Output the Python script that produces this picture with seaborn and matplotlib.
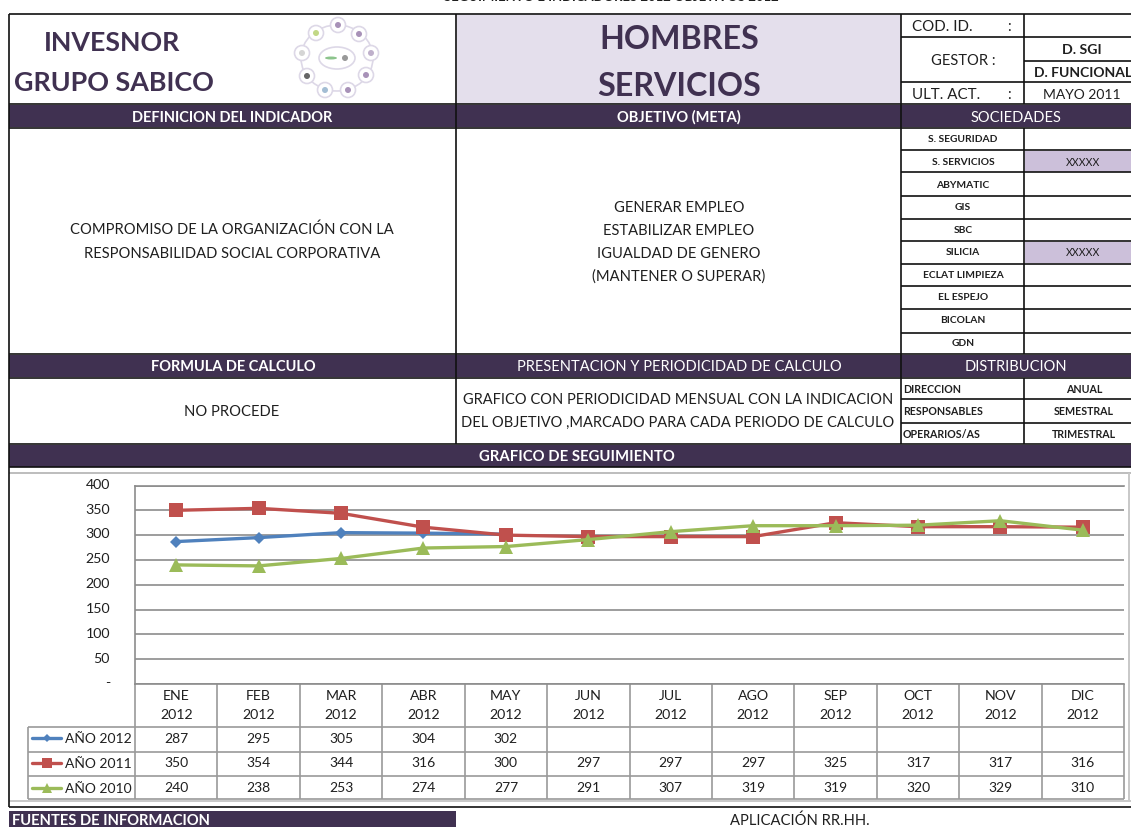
import numpy as np
import pandas as pd
import matplotlib
matplotlib.use("Agg")
import matplotlib.pyplot as plt
from matplotlib.patches import Rectangle, Ellipse
from matplotlib.transforms import ScaledTranslation
import seaborn as sns

months = ["ENE", "FEB", "MAR", "ABR", "MAY", "JUN", "JUL", "AGO", "SEP", "OCT", "NOV", "DIC"]
year_label = "2012"
values_2012 = [287, 295, 305, 304, 302, None, None, None, None, None, None, None]
values_2011 = [350, 354, 344, 316, 300, 297, 297, 297, 325, 317, 317, 316]
values_2010 = [240, 238, 253, 274, 277, 291, 307, 319, 319, 320, 329, 310]
series_names = ["AÑO 2012", "AÑO 2011", "AÑO 2010"]
series_values = [values_2012, values_2011, values_2010]
series_colors = ["#4F81BD", "#C0504D", "#9BBB59"]
y_ticks = [0, 50, 100, 150, 200, 250, 300, 350, 400]
y_tick_labels = ["-", "50", "100", "150", "200", "250", "300", "350", "400"]
societies = ["S. SEGURIDAD", "S. SERVICIOS", "ABYMATIC", "GIS", "SBC", "SILICIA",
             "ECLAT LIMPIEZA", "EL ESPEJO", "BICOLAN", "GDN"]

W, H = 1131, 827
DARK, LILAC, LILAC2, INK = "#403151", "#E4DFEC", "#CCC0DA", "#1F1F1F"
sns.set_theme(style="white")
plt.rcParams["font.family"] = ["Lato", "DejaVu Sans"]

fig = plt.figure(figsize=(W / 100, H / 100), dpi=100, facecolor="white")
bg = fig.add_axes([0, 0, 1, 1])
bg.set_xlim(0, W)
bg.set_ylim(H, 0)
bg.axis("off")


def box(x0, y0, x1, y1, color):
    bg.add_patch(Rectangle((x0, y0), x1 - x0, y1 - y0, fc=color, ec="none", zorder=1))


def hl(y, x0, x1, color="#111111", lw=1.2, z=3):
    bg.plot([x0, x1], [y, y], color=color, lw=lw, zorder=z, solid_capstyle="butt")


def vl(x, y0, y1, color="#111111", lw=1.2, z=3):
    bg.plot([x, x], [y0, y1], color=color, lw=lw, zorder=z, solid_capstyle="butt")


def txt(x, y, s, size=10.6, color=INK, weight="normal", ha="center"):
    bg.text(x, y + 0.1 * size, s, fontsize=size, color=color, fontweight=weight, ha=ha, va="center", zorder=5)


# Fills
box(457, 15, 901, 104, LILAC)
for y0, y1 in [(105, 127), (355, 377), (445, 467)]:
    box(9, y0, W, y1, DARK)
box(9, 811, 456, H, DARK)
box(1025, 151, W, 172, LILAC2)
box(1025, 242, W, 263, LILAC2)

# Table rules
hl(14, 9, W, "#333333", 1.4)
for y in [104, 128, 354, 378, 444, 467]:
    hl(y, 9, W)
for x in [456, 901]:
    vl(x, 14, 444)
vl(9, 14, 467)
vl(1024, 14, 104)
vl(1024, 128, 354)
vl(1024, 378, 444)
hl(37, 901, W)
hl(82, 901, W)
hl(61, 1024, W)
for y in [150, 172, 196, 219, 241, 264, 286, 309, 333]:
    hl(y, 901, W)
for y in [399, 423]:
    hl(y, 901, W)

# Chart frame
hl(473, 9, W, "#BDBDBD", 1.4)
hl(801, 9, W, "#C8C8C8", 1.4)
vl(1129, 473, 801, "#C8C8C8", 1.4)
vl(9, 467, 807)
hl(807, 9, W)

# Logo
RING = "#DDD8E7"
bg.add_patch(Ellipse((337, 58), 72, 66, fc="none", ec=RING, lw=1.2, zorder=2))
bg.add_patch(Ellipse((337, 58), 36, 22, fc="white", ec=RING, lw=1.2, zorder=3))
bg.add_patch(Ellipse((331, 58), 12, 3, fc="#8CC48C", ec="none", zorder=4))
bg.add_patch(Ellipse((345, 58), 6, 6, fc="#999999", ec="none", zorder=4))
logo_nodes = [(338, 25), (359, 34), (371, 53), (366, 75), (348, 90), (325, 90), (307, 76), (302, 53), (316, 33)]
logo_marks = ["#A892B8", "#A892B8", "#BFB0CB", "#A892B8", "#A892B8", "#A4BED4", "#666666", "#D5D5D5", "#C2D886"]
for (nx, ny), nc in zip(logo_nodes, logo_marks):
    bg.add_patch(Ellipse((nx, ny), 15, 15, fc="white", ec=RING, lw=1.2, zorder=3))
    bg.add_patch(Ellipse((nx, ny), 6, 6, fc=nc, ec="none", zorder=4))

# Header text
txt(112, 41, "INVESNOR", 19.3, DARK, "bold")
txt(114, 81, "GRUPO SABICO", 19.4, DARK, "bold")
txt(679, 37, "HOMBRES", 23.2, DARK, "bold")
txt(679, 84, "SERVICIOS", 23.2, DARK, "bold")
txt(611, -4, "SEGUIMIENTO E INDICADORES 2012 OBJETIVOS 2012", 9.45, INK, "bold")
txt(912, 26, "COD. ID.", 10.9, ha="left")
txt(1009, 26, ":", 10.6)
txt(963, 60, "GESTOR :", 10.6)
txt(1082, 49, "D. SGI", 10.2, weight="bold")
txt(1083, 72, "D. FUNCIONAL", 10, weight="bold")
txt(912, 94, "ULT. ACT.", 10.9, ha="left")
txt(1009, 94, ":", 10.6)
txt(1082, 94, "MAYO 2011", 10)

for x, s, w in [(232, "DEFINICION DEL INDICADOR", "bold"), (679, "OBJETIVO (META)", "bold"), (1016, "SOCIEDADES", "normal")]:
    txt(x, 116.5, s, 10.5, "white", w)
for x, s, w in [(233, "FORMULA DE CALCULO", "bold"), (679, "PRESENTACION Y PERIODICIDAD DE CALCULO", "normal"), (1016, "DISTRIBUCION", "normal")]:
    txt(x, 366, s, 10.5, "white", w)
txt(577, 456, "GRAFICO DE SEGUIMIENTO", 10.7, "white", "bold")

txt(232, 229, "COMPROMISO DE LA ORGANIZACIÓN CON LA")
txt(232, 253, "RESPONSABILIDAD SOCIAL CORPORATIVA")
for y, s in [(207, "GENERAR EMPLEO"), (230, "ESTABILIZAR EMPLEO"), (253, "IGUALDAD DE GENERO"), (275, "(MANTENER O SUPERAR)")]:
    txt(679, y, s)
txt(232, 411, "NO PROCEDE")
txt(678, 399, "GRAFICO CON PERIODICIDAD MENSUAL CON LA INDICACION", 10.5)
txt(678, 422, "DEL OBJETIVO ,MARCADO PARA CADA PERIODO DE CALCULO", 10.5)

for y, s in zip([139, 162, 185, 207, 230, 252, 275, 297, 320, 343], societies):
    txt(963, y, s, 7.4, weight="bold")
txt(1083, 162, "XXXXX", 7.6)
txt(1083, 252, "XXXXX", 7.6)
for y, a, b in [(389, "DIRECCION", "ANUAL"), (411, "RESPONSABLES", "SEMESTRAL"), (434, "OPERARIOS/AS", "TRIMESTRAL")]:
    txt(903, y, a, 7.7, weight="bold", ha="left")
    txt(1084, y, b, 7.7, weight="bold")

txt(12, 820, "FUENTES DE INFORMACION", 10.6, "white", "bold", ha="left")
txt(800, 820, "APLICACIÓN RR.HH.")

# Chart
PL, PR, PT, PB = 135, 1124, 485.5, 684
ax = fig.add_axes([PL / W, 1 - PB / H, (PR - PL) / W, (PB - PT) / H])
ax.patch.set_alpha(0)
long_df = pd.DataFrame({
    "mes": np.tile(np.arange(len(months)), len(series_names)),
    "valor": np.concatenate([np.array(v, dtype=float) for v in series_values]),
    "serie": np.repeat(series_names, len(months)),
}).dropna()
sns.lineplot(
    data=long_df, x="mes", y="valor", hue="serie", style="serie",
    hue_order=series_names, style_order=series_names,
    palette=dict(zip(series_names, series_colors)),
    markers=dict(zip(series_names, ["D", "s", "^"])),
    dashes=False, linewidth=2.4, markersize=9.5, markeredgewidth=0,
    estimator=None, errorbar=None, ax=ax, zorder=4,
)
for line in ax.lines:
    if line.get_marker() == "D":
        line.set_markersize(6.5)
ax.set_xlim(-0.5, 11.5)
ax.set_ylim(0, 400)
ax.set_xlabel("")
ax.set_ylabel("")
ax.set_yticks(y_ticks)
ax.set_yticklabels(y_tick_labels)
ax.set_xticks(np.arange(len(months)))
ax.set_xticklabels([f"{m}\n{year_label}" for m in months], linespacing=1.75)
ax.tick_params(axis="y", length=0, pad=18, labelsize=10.2, labelcolor=INK)
ax.tick_params(axis="x", length=0, pad=4, labelsize=10.2, labelcolor=INK)
for lab in ax.get_yticklabels():
    lab.set_transform(lab.get_transform() + ScaledTranslation(0, 1.2 / 72, fig.dpi_scale_trans))
ax.grid(axis="y", color="#8C8C8C", lw=1.2)
ax.set_axisbelow(True)
for s in ax.spines.values():
    s.set_color("#8C8C8C")
    s.set_linewidth(1.2)
ax.spines["right"].set_visible(False)

# Data table under the plot
col = (PR - PL) / len(months)
rows = [684, 727, 752, 776, 799]
GRID = "#9A9A9A"
for i in range(len(months) + 1):
    vl(PL + i * col, PB, rows[-1], GRID, 1.2)
vl(28, rows[1], rows[-1], GRID, 1.2)
for y in rows[1:]:
    hl(y, 28, PR, GRID, 1.2)
for y, vals in zip([738, 762, 787], series_values):
    for i, v in enumerate(vals):
        if v is not None:
            txt(PL + (i + 0.5) * col, y, str(v), 10)

handles, labels = ax.get_legend_handles_labels()
for h in handles:
    h.set_markersize(4.5 if h.get_marker() == "D" else 6.5)
ax.legend(handles, labels, loc="upper left", bbox_to_anchor=(32, 733), bbox_transform=bg.transData,
          frameon=False, fontsize=10, labelspacing=0.92, handlelength=2.1, handletextpad=0.3,
          borderpad=0, borderaxespad=0, labelcolor=INK)

fig.savefig("out.png", dpi=100)
